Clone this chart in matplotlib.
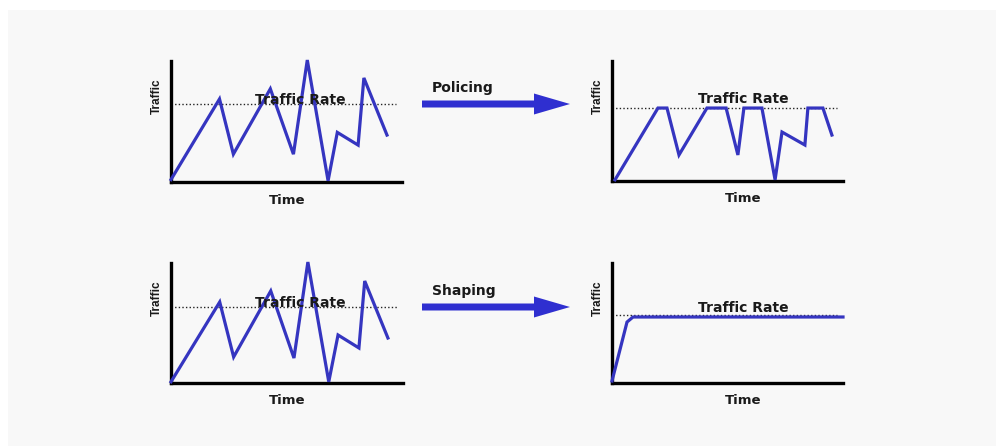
import matplotlib
matplotlib.use("Agg")
import matplotlib.pyplot as plt
from matplotlib.patches import Rectangle, FancyArrow

# traffic curves, time and traffic both in percent of the axis length
raw_t = [0, 21, 27, 43, 53, 59, 68, 72, 81, 83.5, 93.5]
raw_top = [2, 68.6, 23, 77, 23, 100.8, 1, 41, 30.5, 86, 38.8]
raw_bottom = [1, 67.5, 21.7, 76.7, 20.8, 100.8, 1, 40, 29.2, 85, 37.5]

policed_t = [1.3, 19.9, 23.8, 29.0, 41.1, 49.4, 54.5, 57.1, 64.9, 70.6, 73.6, 83.5, 84.8, 91.3, 95.2]
policed_v = [1, 60.8, 60.8, 21.7, 60.8, 60.8, 21.7, 60.8, 60.8, 1, 40.8, 30, 60.8, 60.8, 38.3]

shaped_t = [0, 6.5, 9.1, 100]
shaped_v = [1.7, 50.8, 55, 55]

rates = [64.5, 60.8, 63.3, 56.7]
rate_label_y = [67.5, 68.3, 66.7, 62.5]
rate_label_x = [55.8, 56.7, 55.8, 56.7]
actions = ["Policing", "Shaping"]

W, H = 996, 446
LINE = "#3535c0"
ARROW = "#2f2fd0"
TEXT = "#1a1a1a"

fig = plt.figure(figsize=(W / 100, H / 100), dpi=100, facecolor="white")

# overlay in pixel coordinates for the panel background and the arrows
bg = fig.add_axes([0, 0, 1, 1])
bg.set_xlim(0, W)
bg.set_ylim(H, 0)
bg.axis("off")
bg.add_patch(Rectangle((8, 10), W - 8, H - 10, facecolor="#f8f8f8", edgecolor="none"))

for i, label in enumerate(actions):
    y = 104 + i * 203
    bg.add_patch(FancyArrow(422, y, 148, 0, width=7, head_width=21, head_length=36,
                            length_includes_head=True, color=ARROW, linewidth=0))
    bg.text(432, y - 16, label, fontsize=10, fontweight="bold", color=TEXT,
            family="DejaVu Sans", va="center", ha="left")

# panel boxes in pixels: left, right, top, bottom
boxes = [(171, 402, 61, 182), (612, 843, 61, 181), (171, 403, 263, 383), (612, 843, 263, 383)]
curves = [(raw_t, raw_top), (policed_t, policed_v), (raw_t, raw_bottom), (shaped_t, shaped_v)]

for k, ((l, r, t, b), (xs, ys)) in enumerate(zip(boxes, curves)):
    ax = fig.add_axes([l / W, (H - b) / H, (r - l) / W, (b - t) / H])
    ax.patch.set_alpha(0)
    ax.set_xlim(0, 100)
    ax.set_ylim(0, 100)
    for side in ("top", "right"):
        ax.spines[side].set_visible(False)
    for side in ("left", "bottom"):
        ax.spines[side].set_linewidth(2.4)
        ax.spines[side].set_color("black")
    ax.set_xticks([])
    ax.set_yticks([])

    ax.plot([0, 97.5], [rates[k], rates[k]], color="#222222", lw=1, linestyle=(0, (1, 1.6)),
            clip_on=False, zorder=2)
    ax.plot(xs, ys, color=LINE, lw=2.3, clip_on=False, zorder=3, solid_joinstyle="miter")
    ax.text(rate_label_x[k], rate_label_y[k], "Traffic Rate", fontsize=10, fontweight="bold",
            color=TEXT, family="DejaVu Sans", ha="center", va="center", zorder=4)
    ax.text(-6.1, 71, "Traffic", fontsize=8.5, rotation=90, fontweight="bold",
            family="Liberation Sans", color=TEXT, ha="center", va="center")
    ax.text(50.2 if k % 2 == 0 else 56.7, -15, "Time", fontsize=9.5, fontweight="bold",
            color=TEXT, family="DejaVu Sans", ha="center", va="center")

fig.savefig("out.png", dpi=100, facecolor="white")
